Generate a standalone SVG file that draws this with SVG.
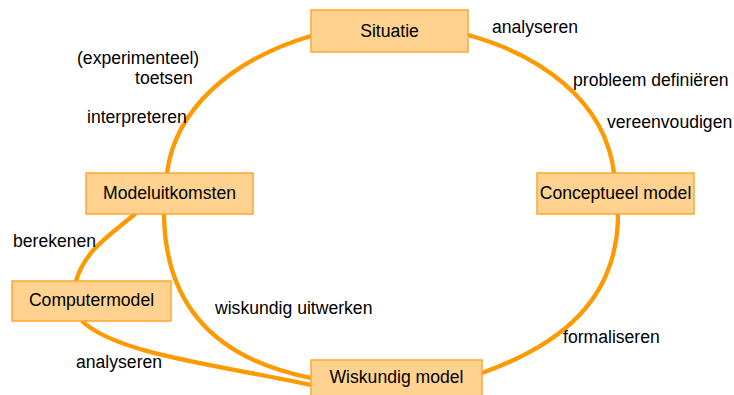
<svg xmlns="http://www.w3.org/2000/svg" width="734" height="395" viewBox="0 0 734 395">
<style>
.c{fill:none;stroke:#FF9900;stroke-width:4.3;stroke-linecap:round}
.b{fill:#FFD38F;stroke:#FFA630;stroke-width:1.5}
.t{font-family:"Liberation Sans",Arial,sans-serif;font-size:17.6px;fill:#000}
.m{text-anchor:middle}
</style>
<rect width="734" height="395" fill="#fff"/>
<g id="connectors">
<path class="c" d="M311,36 C230,60 175,110 167,173"/>
<path class="c" d="M468,35 C540,55 605,100 614,173"/>
<path class="c" d="M618,214 C618,300 560,345 482,373"/>
<path class="c" d="M164,214 C165,310 220,360 311,378"/>
<path class="c" d="M83,322 C120,355 220,365 311,385"/>
<path class="c" d="M135,214 C110,235 85,250 76,281"/>
</g>
<g id="labels">
<text class="t" x="492" y="33">analyseren</text>
<text class="t" x="573" y="86">probleem definiëren</text>
<text class="t" x="607" y="128">vereenvoudigen</text>
<text class="t" x="77" y="63.5">(experimenteel)</text>
<text class="t" x="135" y="84">toetsen</text>
<text class="t" x="87" y="123">interpreteren</text>
<text class="t" x="13" y="247">berekenen</text>
<text class="t" x="215" y="314">wiskundig uitwerken</text>
<text class="t" x="76" y="368">analyseren</text>
<text class="t" x="563" y="343">formaliseren</text>
</g>
<g id="situatie">
<rect class="b" x="311" y="10" width="157" height="42"/>
<text class="t m" x="389.5" y="37">Situatie</text>
</g>
<g id="conceptueel">
<rect class="b" x="537" y="173" width="157" height="41"/>
<text class="t m" x="615.5" y="199">Conceptueel model</text>
</g>
<g id="modeluitkomsten">
<rect class="b" x="86" y="173" width="167" height="41"/>
<text class="t m" x="169.5" y="199">Modeluitkomsten</text>
</g>
<g id="computermodel">
<rect class="b" x="12" y="281" width="159" height="40"/>
<text class="t m" x="91.5" y="306">Computermodel</text>
</g>
<g id="wiskundig">
<rect class="b" x="311" y="360" width="171" height="41"/>
<text class="t m" x="396.5" y="383">Wiskundig model</text>
</g>
</svg>
